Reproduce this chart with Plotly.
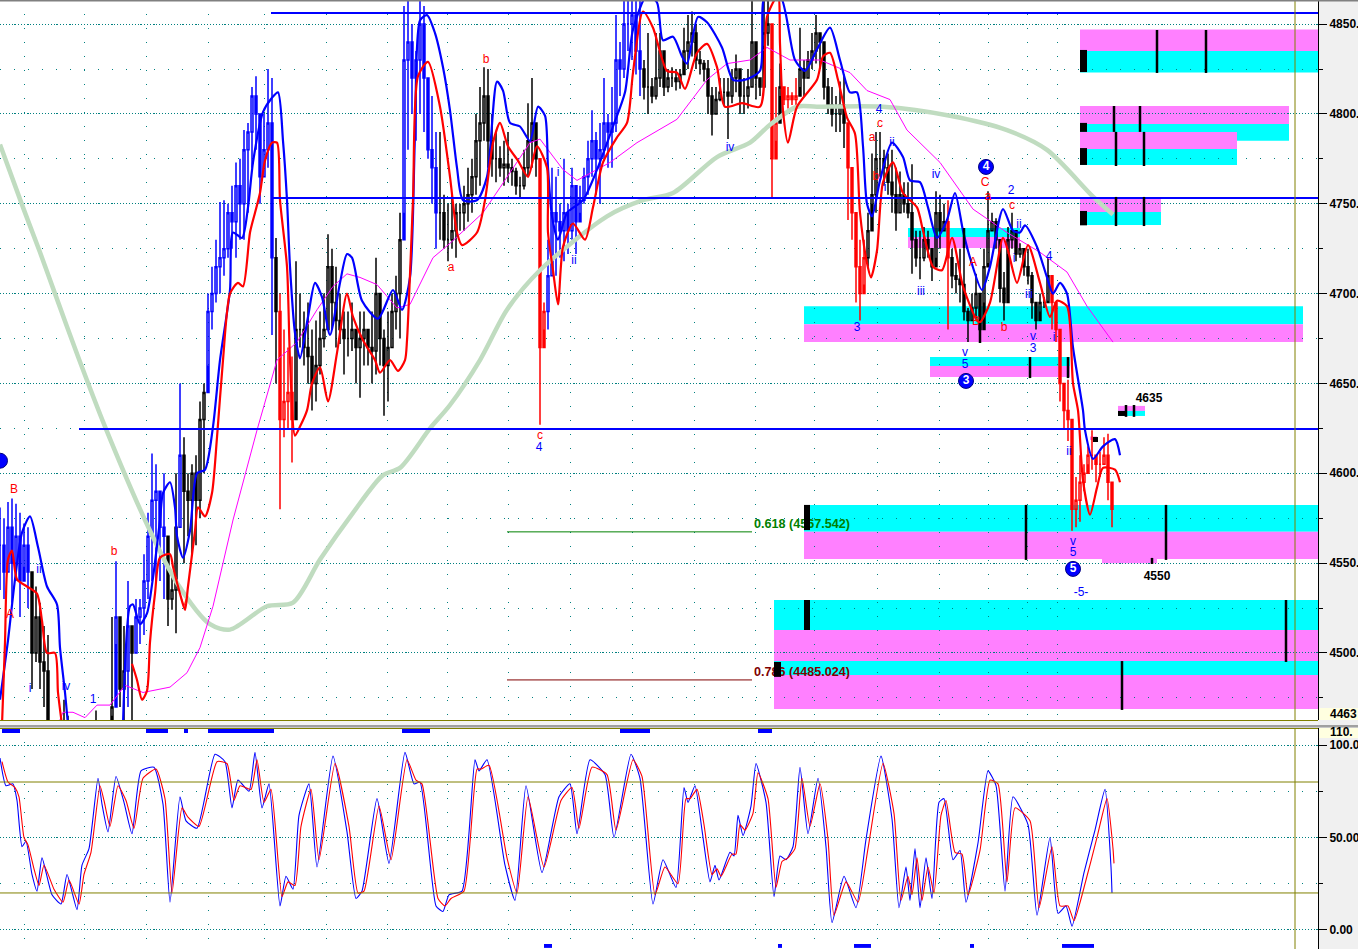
import plotly.graph_objects as go

# ---------- price bars (one bar every 4 x units) ----------
bar_high = [
4581,4575,4584,4586,4583,4578,4572,4570,4540,4537,
4528,4515,4510,4462,4455,4460,4474,4465,4450,4450,
4450,4450,4450,4450,4468,4450,4450,4450,4520,4551,
4517,4515,4540,4505,4530,4530,4555,4578,4611,4605,
4590,4600,4550,4545,4600,4650,4620,4600,4605,4610,
4640,4650,4700,4715,4730,4751,4752,4750,4760,4773,
4775,4791,4795,4815,4821,4790,4800,4825,4820,4731,
4700,4680,4670,4665,4718,4700,4690,4695,4680,4685,
4690,4700,4733,4725,4715,4700,4690,4690,4695,4680,
4690,4690,4680,4690,4720,4700,4680,4690,4700,4710,
4745,4860,4863,4850,4835,4863,4860,4815,4810,4790,
4790,4755,4750,4755,4750,4750,4760,4770,4775,4800,
4815,4826,4825,4800,4790,4782,4785,4790,4775,4770,
4765,4780,4806,4820,4785,4720,4695,4730,4770,4765,
4750,4775,4750,4770,4755,4760,4770,4785,4802,4790,
4795,4820,4800,4815,4855,4840,4863,4863,4863,4863,
4863,4830,4845,4820,4845,4845,4830,4825,4826,4825,
4825,4848,4855,4857,4850,4835,4830,4830,4815,4815,
4820,4820,4820,4825,4833,4822,4820,4825,4863,4825,
4820,4863,4863,4811,4815,4828,4815,4815,4812,4820,
4848,4830,4835,4845,4855,4845,4832,4820,4815,4810,
4818,4822,4795,4760,4745,4730,4730,4745,4778,4790,
4790,4780,4778,4780,4770,4768,4762,4762,4772,4735,
4735,4737,4735,4720,4757,4755,4750,4752,4725,4717,
4725,4736,4692,4700,4711,4692,4725,4757,4745,4742,
4712,4712,4737,4745,4732,4728,4725,4725,4712,4692,
4700,4698,4720,4706,4690,4675,4650,4652,4618,4598,
4610,4605,4615,4624,4610,4612,4620,4622,4591]
bar_low = [
4535,4530,4545,4528,4540,4520,4548,4525,4480,4495,
4480,4470,4440,4440,4440,4440,4445,4445,4440,4440,
4440,4440,4440,4440,4445,4440,4440,4440,4465,4505,
4470,4440,4470,4440,4500,4505,4510,4530,4540,4540,
4540,4530,4515,4524,4511,4570,4550,4565,4555,4560,
4575,4600,4660,4680,4695,4700,4710,4720,4725,4720,
4730,4730,4745,4770,4780,4750,4765,4770,4677,4650,
4580,4620,4625,4606,4640,4670,4660,4650,4635,4640,
4655,4670,4680,4680,4670,4672,4655,4665,4668,4650,
4642,4660,4660,4650,4655,4660,4632,4640,4670,4680,
4675,4745,4780,4800,4785,4800,4790,4775,4750,4725,
4730,4725,4718,4725,4720,4735,4735,4740,4745,4755,
4760,4785,4770,4765,4762,4765,4760,4762,4760,4755,
4753,4758,4765,4770,4765,4627,4680,4680,4710,4710,
4720,4718,4722,4730,4722,4745,4750,4755,4765,4755,
4750,4775,4770,4770,4790,4810,4820,4835,4830,4822,
4810,4808,4800,4806,4808,4815,4810,4812,4815,4813,
4814,4830,4825,4832,4825,4822,4818,4800,4788,4800,
4807,4805,4786,4806,4812,4800,4800,4803,4815,4808,
4810,4838,4838,4753,4785,4810,4805,4803,4805,4803,
4815,4810,4820,4825,4828,4825,4808,4800,4793,4790,
4790,4781,4741,4730,4695,4685,4705,4715,4750,4745,
4765,4760,4755,4745,4735,4745,4745,4742,4711,4715,
4708,4718,4720,4707,4720,4725,4735,4680,4703,4700,
4695,4685,4673,4685,4686,4673,4695,4717,4735,4725,
4695,4685,4722,4725,4718,4720,4710,4705,4686,4680,
4690,4692,4696,4680,4673,4640,4625,4618,4568,4570,
4573,4590,4605,4602,4595,4598,4605,4585,4570]
bar_close = [
4560,4545,4570,4550,4565,4540,4560,4545,4500,4520,
4495,4490,4445,4450,4445,4450,4460,4450,4445,4445,
4445,4445,4445,4445,4455,4445,4445,4445,4470,4520,
4480,4490,4515,4500,4520,4525,4540,4565,4585,4590,
4570,4565,4530,4535,4570,4610,4590,4585,4600,4585,
4630,4645,4690,4700,4715,4720,4725,4745,4740,4760,
4750,4780,4790,4810,4800,4765,4780,4795,4720,4690,
4630,4640,4645,4630,4680,4680,4670,4665,4650,4660,
4675,4680,4715,4695,4685,4680,4675,4675,4680,4670,
4675,4680,4670,4668,4700,4675,4660,4670,4690,4700,
4730,4830,4840,4820,4830,4850,4820,4780,4770,4745,
4745,4730,4730,4735,4745,4745,4750,4755,4765,4785,
4795,4810,4785,4775,4775,4770,4772,4770,4768,4760,
4760,4770,4785,4795,4775,4670,4690,4710,4745,4740,
4735,4745,4735,4760,4740,4752,4765,4775,4785,4775,
4780,4795,4790,4795,4830,4825,4850,4850,4855,4835,
4825,4815,4815,4810,4820,4835,4815,4820,4820,4818,
4822,4835,4840,4845,4830,4828,4825,4810,4800,4808,
4812,4812,4810,4820,4825,4810,4810,4815,4840,4820,
4815,4845,4850,4775,4795,4815,4808,4810,4808,4810,
4825,4820,4830,4835,4845,4840,4815,4805,4800,4800,
4805,4795,4770,4745,4715,4700,4720,4735,4755,4775,
4775,4770,4762,4755,4745,4755,4750,4745,4730,4720,
4720,4730,4725,4715,4745,4735,4740,4720,4710,4708,
4705,4690,4685,4692,4700,4680,4715,4735,4740,4730,
4703,4695,4730,4735,4722,4725,4715,4710,4695,4685,
4695,4695,4710,4695,4680,4650,4635,4630,4580,4585,
4595,4600,4610,4610,4605,4605,4610,4595,4580]
# colour of the bars, as (last x of the run, colour)
colour_runs = [(28,"#0000ff"),(112,"#000000"),(116,"#0000ff"),(124,"#000000"),(128,"#0000ff"),
               (132,"#000000"),(164,"#0000ff"),(176,"#000000"),(180,"#0000ff"),(204,"#000000"),
               (272,"#0000ff"),(276,"#000000"),(292,"#ff0000"),(400,"#000000"),(436,"#0000ff"),
               (536,"#000000"),(544,"#ff0000"),(640,"#0000ff"),(768,"#000000"),(776,"#ff0000"),
               (780,"#000000"),(796,"#ff0000"),(844,"#000000"),(864,"#ff0000"),(944,"#000000"),
               (948,"#ff0000"),(1048,"#000000"),(1112,"#ff0000")]

# ---------- moving averages ----------
sma_x = [0,23,40,55,78,105,150,177,210,230,267,293,320,353,383,400,430,450,480,507,540,607,643,673,717,750,770,797,817,883,950,1007,1047,1093,1113]
sma_v = [4783,4748,4723,4700,4665,4626,4568,4539,4516,4513,4526,4528,4552,4578,4599,4603,4625,4638,4663,4691,4713,4743,4752,4756,4776,4784,4794,4804,4804,4804,4799,4791,4780,4754,4744]

fast_x1 = [0,8,15,22,30,38,47,57,60,65,68]
fast_v1 = [4474,4507,4541,4567,4576,4559,4537,4527,4503,4478,4460]
fast_x2 = [123,130,133,140,147,153,160,163,170,175,177,183,190,197,205,213,220,230,233,242,248,253,263,272,278,283,287,290,295,300,308,315,322,330,340,347,352,362,378,393,402,410,415,420,427,435,443,450,457,463,477,487,497,503,510,520,530,538,545,548,552,558,567,583,597,613,625,633,647,657,663,673,682,687,698,707,722,733,745,760,765,780,795,805,817,830,840,850,857,863,867,872,880,892,903,910,920,928,937,947,955,963,970,982,990,1003,1013,1020,1025,1037,1047,1053,1060,1067,1073,1083,1085,1093,1103,1115,1120]
fast_v2 = [4460,4526,4527,4516,4522,4542,4574,4589,4595,4581,4565,4553,4568,4600,4602,4626,4663,4702,4734,4731,4748,4773,4801,4809,4812,4785,4752,4715,4678,4664,4687,4706,4698,4677,4706,4722,4720,4696,4686,4702,4691,4709,4789,4852,4855,4845,4826,4802,4770,4752,4752,4765,4818,4813,4795,4793,4785,4804,4799,4770,4743,4730,4745,4752,4769,4793,4812,4847,4866,4862,4841,4843,4832,4828,4854,4851,4837,4819,4819,4824,4866,4866,4830,4824,4836,4848,4830,4812,4812,4782,4750,4743,4763,4784,4776,4763,4762,4748,4731,4741,4756,4735,4720,4702,4715,4747,4735,4734,4738,4726,4709,4700,4706,4700,4670,4635,4624,4608,4615,4619,4610]

slow_x1 = [2,5,8,12,17,27,37,42,47,55,58,62]
slow_v1 = [4460,4506,4552,4557,4541,4537,4533,4518,4500,4500,4478,4460]
slow_x2 = [132,137,142,147,150,155,160,170,173,180,185,188,195,198,205,212,217,223,230,238,243,250,255,260,265,272,277,280,287,290,295,300,307,312,320,328,337,347,353,363,375,380,390,398,405,407,413,418,428,440,450,457,462,477,485,493,500,508,518,528,537,547,548,553,558,563,573,585,593,603,617,627,633,643,653,667,677,685,697,707,717,725,742,760,767,778,780,783,788,797,817,823,830,838,847,855,860,867,871,877,883,893,903,917,923,933,942,952,963,977,980,990,1003,1008,1017,1028,1040,1050,1057,1067,1073,1078,1083,1090,1097,1103,1115,1120]
slow_v2 = [4494,4485,4474,4479,4506,4533,4553,4555,4548,4533,4524,4537,4568,4581,4576,4589,4620,4663,4700,4706,4704,4734,4745,4756,4774,4784,4784,4752,4715,4663,4621,4626,4635,4650,4659,4640,4667,4700,4687,4674,4663,4656,4663,4657,4663,4674,4752,4821,4829,4804,4765,4734,4727,4734,4752,4784,4795,4782,4774,4765,4782,4770,4734,4713,4694,4726,4739,4730,4748,4773,4787,4795,4823,4857,4848,4824,4823,4814,4834,4839,4826,4804,4806,4804,4854,4866,4839,4802,4784,4804,4819,4832,4834,4819,4798,4789,4745,4717,4709,4724,4762,4773,4756,4748,4735,4715,4713,4731,4704,4685,4684,4695,4731,4724,4706,4727,4706,4687,4696,4693,4650,4635,4596,4577,4592,4603,4602,4595]

mid_x = [58,63,73,85,97,110,125,143,170,187,200,213,233,257,277,297,317,333,347,360,377,397,410,433,450,467,483,500,530,540,563,577,610,637,677,707,727,750,767,790,820,850,867,890,900,907,940,973,1007,1040,1067,1087,1113]
mid_v = [4460,4467,4467,4464,4471,4471,4482,4478,4481,4489,4503,4526,4574,4624,4663,4673,4691,4704,4711,4709,4705,4692,4694,4720,4728,4737,4745,4759,4784,4786,4769,4763,4773,4784,4797,4819,4828,4830,4837,4830,4830,4823,4813,4808,4798,4791,4773,4747,4734,4723,4712,4693,4673]

# ---------- horizontal levels ----------
level_price = [4856.2, 4753.2, 4624.6]
level_start = [271, 271, 79]
fib_price = [4567.4, 4485.0]
fib_names = ["0.618 (4567.542)", "0.786 (4485.024)"]

# ---------- target zones: start, end, top, middle, bottom, first colour on top ----------
zone_start = [1080,1080,1080,1080,908,804,930,1118,804,774,774]
zone_end   = [1318,1289,1237,1161,1020,1303,1070,1145,1318,1318,1318]
zone_top   = [4847,4804.4,4790,4753.8,4736.5,4693,4664.7,4637.5,4582.4,4529.5,4495.5]
zone_mid   = [4835,4794.4,4780.5,4745.4,4731.5,4683,4659.7,4634.7,4567.4,4512.8,4487.8]
zone_bot   = [4823,4785,4771.6,4738.2,4725.4,4673,4653.6,4631.9,4552.3,4495.5,4468.8]
zone_up    = ["m","m","m","m","c","c","c","m","c","c","c"]
# black marks on zones
mark_x   = [1157,1206,1114,1140,1116,1144,1116,1144,964,980,1030,1068,1126,1134,1026,1166,1152,1286,1122]
mark_top = [4846.7,4846.7,4804.4,4804.4,4790,4790,4753.8,4753.8,4736.5,4683.6,4664.7,4664.7,4638,4638,4582.4,4582.4,4552.9,4529.5,4495.5]
mark_bot = [4822.8,4822.8,4790,4790,4771,4771,4737.6,4737.6,4725.4,4672.5,4653,4653,4631.4,4631.4,4551.8,4551.8,4549.5,4495,4468.3]
block_x0 = [1080,1080,1080,1080,1118,804,804,774,1093]
block_x1 = [1087,1087,1087,1087,1126,810,810,781,1098]
block_top = [4835.6,4795,4781,4746,4634.7,4582.4,4529.5,4495,4620.2]
block_bot = [4823.3,4790,4771.6,4738,4631.9,4568.4,4512.8,4486.7,4617.4]

# ---------- wave labels ----------
blue_lab_x = [39,30,66,93,539,558,574,730,857,879,885,892,936,921,1011,1014,1019,1029,1049,1033,1033,1054,1069,1073,1073,965,965,1081]
blue_lab_v = [4546,4480,4481,4474,4614,4767,4718,4781,4681,4802,4759,4784,4766,4701,4757,4719,4738,4699,4720.4,4676,4669,4675.3,4612,4562,4555.6,4667,4660,4533.4]
blue_lab_t = ["ii","i","iv","1","4","i","ii","iv","3","4","i","ii","iv","iii","2","i","ii","iii","4","v","3","i","ii","v","5","v","5","-5-"]
red_lab_x = [14,10,114,184,451,486,540,880,872,876,985,988,1012,973,976,1004]
red_lab_v = [4590.7,4521,4556,4528,4714,4830,4621,4794.4,4786.6,4765,4761.6,4753.8,4749,4717,4684,4681]
red_lab_t = ["B","A","b","v","a","b","c","c","a","b","C","a","c","A","B","b"]
black_lab_x = [1149,1157]
black_lab_v = [4641.4,4542.3]
black_lab_t = ["4635","4550"]
wave_x = [986,966,1073,0]
wave_v = [4770.5,4651.4,4546.8,4607]
wave_t = ["4","3","5",""]

# ---------- oscillator ----------
stoch_x = [0,6,13,17,22,26,32,37,42,52,61,67,77,82,89,98,102,108,116,124,132,141,154,163,170,180,186,197,215,225,232,238,249,255,262,269,280,286,293,299,309,317,333,347,356,362,377,389,405,414,420,436,443,449,462,475,479,487,505,515,526,542,559,570,577,590,605,614,631,640,653,663,676,684,688,695,702,710,715,719,730,734,738,743,751,756,766,774,780,786,793,800,808,818,826,832,844,856,866,881,892,899,906,910,915,920,926,932,939,944,953,960,966,978,988,996,1005,1013,1028,1037,1050,1058,1066,1072,1084,1095,1105,1111,1112]
stoch_k = [93,78,79,70,45,48,30,21,39,19,14,30,11,35,44,82,68,53,83,69,52,86,88,68,15,72,59,55,95,91,66,81,75,96,66,79,13,29,22,62,79,34,94,53,17,21,71,36,96,79,80,13,10,19,21,92,86,92,35,16,78,31,72,79,52,92,84,50,95,82,14,38,23,77,69,78,54,26,35,27,42,40,62,51,67,90,69,18,40,38,45,88,52,82,45,4,29,12,49,94,60,12,34,16,44,12,39,17,69,71,38,43,15,47,86,78,21,72,57,8,50,9,13,2,31,54,76,34,20]
stoch_d = [91,80,77,72,50,46,33,24,35,22,15,27,14,30,42,78,70,56,78,70,55,82,87,71,20,66,61,56,91,90,70,78,76,92,69,76,18,26,24,56,76,38,90,56,20,21,67,38,92,81,79,17,13,17,21,87,87,89,39,20,72,34,70,77,55,88,84,54,92,83,19,34,25,71,71,76,57,30,33,29,41,41,57,54,63,85,71,23,37,39,44,82,56,79,49,8,26,15,44,90,63,16,29,19,39,16,34,20,62,70,42,41,19,43,81,79,26,66,59,12,45,13,13,5,27,50,71,44,36]
stoch_levels = [80, 20]
# oscillator state strips
strip_top_x0 = [2,146,184,208,402,620,758]
strip_top_x1 = [20,168,188,274,430,650,772]
strip_bot_x0 = [544,778,854,970,1062]
strip_bot_x1 = [552,782,871,974,1094]

price_ticks = [4850,4800,4750,4700,4650,4600,4550,4500]
price_labels = ["4850.","4800.","4750.","4700.","4650.","4600.","4550.","4500."]
stoch_ticks = [100,50,0]
stoch_labels = ["100.0","50.00","0.00"]
pane_low_label = "4463"
pane_high_label = "110."
grid_x = [24,84,146,208,264,326,387,447,508,570,632,694,755,814,877,939,988,1027,1057]

BLUE, RED, MAG, CYAN, PINK, OLIVE, TEAL = "#0000ff","#ff0000","#ff00ff","#00ffff","#ff80ff","#808000","#008080"
FONT = "Liberation Sans"
W, H = 1358, 949
PW = 1318

fig = go.Figure()

# green long average beneath the bars
fig.add_trace(go.Scatter(x=sma_x, y=sma_v, mode="lines", line=dict(color="#c0dcc0", width=4.5, shape="spline", smoothing=0.8), hoverinfo="skip"))

# bars by colour
bar_x = [4 * i for i in range(len(bar_close))]
bar_open = [bar_close[0]] + bar_close[:-1]
bar_col = []
for xv in bar_x:
    bar_col.append(next(c for last, c in colour_runs if xv <= last))
for col in [BLUE, "#000000", RED]:
    idx = [i for i, c in enumerate(bar_col) if c == col]
    fig.add_trace(go.Candlestick(
        x=[bar_x[i] for i in idx], open=[bar_open[i] for i in idx], high=[bar_high[i] for i in idx],
        low=[bar_low[i] for i in idx], close=[bar_close[i] for i in idx], whiskerwidth=0,
        increasing=dict(line=dict(color=col, width=1.5), fillcolor="rgba(255,255,255,0)"),
        decreasing=dict(line=dict(color=col, width=1.5), fillcolor=col), hoverinfo="skip"))

fig.add_trace(go.Scatter(x=mid_x, y=mid_v, mode="lines", line=dict(color=MAG, width=1), hoverinfo="skip"))
for xs, vs, col in [(fast_x1, fast_v1, BLUE), (fast_x2, fast_v2, BLUE), (slow_x1, slow_v1, RED), (slow_x2, slow_v2, RED)]:
    fig.add_trace(go.Scatter(x=xs, y=vs, mode="lines", line=dict(color=col, width=2.2, shape="spline", smoothing=0.7), hoverinfo="skip"))

for p, s in zip(level_price, level_start):
    fig.add_trace(go.Scatter(x=[s, PW], y=[p, p], mode="lines", line=dict(color=BLUE, width=2), hoverinfo="skip"))
for p, col, name in zip(fib_price, ["#008000", "#800000"], fib_names):
    fig.add_trace(go.Scatter(x=[507, 752], y=[p, p], mode="lines", line=dict(color=col, width=1), hoverinfo="skip"))
    fig.add_trace(go.Scatter(x=[754], y=[p + 4], mode="text", text=[name], textposition="middle right",
                             textfont=dict(family=FONT, size=12.6, color=col, weight="bold"), hoverinfo="skip"))

for xs, vs, ts, col in [(blue_lab_x, blue_lab_v, blue_lab_t, BLUE), (red_lab_x, red_lab_v, red_lab_t, RED),
                        (black_lab_x, black_lab_v, black_lab_t, "#000000")]:
    black = col == "#000000"
    fig.add_trace(go.Scatter(x=xs, y=vs, mode="text", text=ts, textposition="middle center",
                             textfont=dict(family=FONT, size=12, color=col, weight="bold" if black else "normal"), hoverinfo="skip"))
fig.add_trace(go.Scatter(x=wave_x, y=wave_v, mode="markers+text", text=wave_t, textposition="middle center",
                         marker=dict(color=BLUE, size=15, line=dict(color="#000080", width=1)),
                         textfont=dict(family=FONT, size=12, color="#ffffff", weight="bold"), hoverinfo="skip"))

# oscillator
fig.add_trace(go.Scatter(x=stoch_x, y=stoch_k, xaxis="x2", yaxis="y2", mode="lines", line=dict(color=BLUE, width=1.1, shape="spline", smoothing=0.5), hoverinfo="skip"))
fig.add_trace(go.Scatter(x=[v + 2 for v in stoch_x], y=stoch_d, xaxis="x2", yaxis="y2", mode="lines", line=dict(color=RED, width=1.1, shape="spline", smoothing=0.5), hoverinfo="skip"))

shapes = []
def rect(x0, x1, y0, y1, col, xref="x", yref="y", layer="below"):
    shapes.append(dict(type="rect", x0=x0, x1=x1, y0=y0, y1=y1, xref=xref, yref=yref, layer=layer,
                       fillcolor=col, line=dict(width=0)))
for s, e, t, m, b, u in zip(zone_start, zone_end, zone_top, zone_mid, zone_bot, zone_up):
    rect(s, e, m, t, PINK if u == "m" else CYAN)
    rect(s, e, b, m, CYAN if u == "m" else PINK)
rect(1102, 1157, 4552.3, 4550, PINK)
rect(1090, 1097, 4620.5, 4618.5, PINK)
for x, t, b in zip(mark_x, mark_top, mark_bot):
    shapes.append(dict(type="line", x0=x, x1=x, y0=b, y1=t, xref="x", yref="y", layer="above",
                       line=dict(color="#000000", width=2.5)))
for a, c, t, b in zip(block_x0, block_x1, block_top, block_bot):
    rect(a, c, b, t, "#000000", layer="above")
for a, c in zip(strip_top_x0, strip_top_x1):
    rect(a, c, 106.5, 109.2, BLUE, "x2", "y2")
for a, c in zip(strip_bot_x0, strip_bot_x1):
    rect(a, c, -9.7, -7.6, BLUE, "x2", "y2")
for lv in stoch_levels:
    shapes.append(dict(type="line", x0=0, x1=PW, y0=lv, y1=lv, xref="x2", yref="y2", layer="above",
                       line=dict(color=OLIVE, width=1)))

def py(v):
    return 1 - v / H
def px(v):
    return v / PW  # paper x runs over the plot area only
# vertical marker, pane separators, window edge
shapes.append(dict(type="line", x0=1295, x1=1295, y0=py(949), y1=py(0), xref="x", yref="paper", layer="above",
                   line=dict(color=OLIVE, width=1)))
rect(0, px(PW), py(728), py(720), "#f4f4f4", "paper", "paper", "above")
rect(0, px(W), py(727.5), py(725), "#a0a0a0", "paper", "paper", "above")
rect(0, px(W), py(1.5), py(0), "#808080", "paper", "paper", "above")
for yy in (720.5, 728.5):
    shapes.append(dict(type="line", x0=0, x1=px(PW), y0=py(yy), y1=py(yy), xref="paper", yref="paper", layer="above",
                       line=dict(color=OLIVE, width=1)))
rect(px(PW + 1), px(W), py(720), py(708), "#ffffe0", "paper", "paper")
rect(px(PW + 1), px(W), py(738), py(728), "#ffffe0", "paper", "paper")

grid_x_axis = dict(range=[0, PW], tickmode="array", tickvals=grid_x, showticklabels=False, ticks="",
                   showgrid=True, gridcolor=TEAL, griddash="1px,13px", gridwidth=1, zeroline=False,
                   showline=False, rangeslider=dict(visible=False), fixedrange=True, automargin=False)
def y_axis(ticks, labels, lo, hi, dom, minor_step, **kw):
    return dict(range=[lo, hi], domain=dom, side="right", tickmode="array", tickvals=ticks, ticktext=labels,
                ticks="outside", ticklen=8, tickcolor="#000000", showline=True, linecolor="#000000", linewidth=1,
                showgrid=True, gridcolor=TEAL, griddash="1px,2px", gridwidth=1, zeroline=False, fixedrange=True,
                automargin=False, tickfont=dict(family=FONT, size=12, color="#000000", weight="bold"),
                minor=dict(dtick=minor_step, tick0=0, showgrid=True, gridcolor=TEAL, griddash="1px,13px",
                           ticks="outside", ticklen=4, tickcolor="#000000"), **kw)

fig.update_layout(
    width=W, height=H, autosize=False, showlegend=False,
    margin=dict(l=0, r=W - PW, t=0, b=0, pad=0),
    paper_bgcolor="#f0f0f0", plot_bgcolor="#ffffff",
    xaxis=dict(grid_x_axis, domain=[0, 1], anchor="y"),
    xaxis2=dict(grid_x_axis, domain=[0, 1], anchor="y2"),
    yaxis=y_axis(price_ticks, price_labels, 4462.7, 4863.4, [py(720), 1], 25, anchor="x"),
    yaxis2=y_axis(stoch_ticks, stoch_labels, -10.3, 109.2, [0, py(728)], 25, anchor="x2"),
    shapes=shapes,
    annotations=[
        dict(text=pane_low_label, xref="paper", yref="paper", x=px(1328), y=py(714), xanchor="left", yanchor="middle",
             showarrow=False, font=dict(family=FONT, size=12, color="#000000", weight="bold")),
        dict(text=pane_high_label, xref="paper", yref="paper", x=px(1328), y=py(732), xanchor="left", yanchor="middle",
             showarrow=False, font=dict(family=FONT, size=12, color="#000000", weight="bold")),
    ],
)

fig.write_html("out.html", config={"displayModeBar": False},
               post_script="document.body.style.margin='0';document.body.style.overflow='hidden';")
